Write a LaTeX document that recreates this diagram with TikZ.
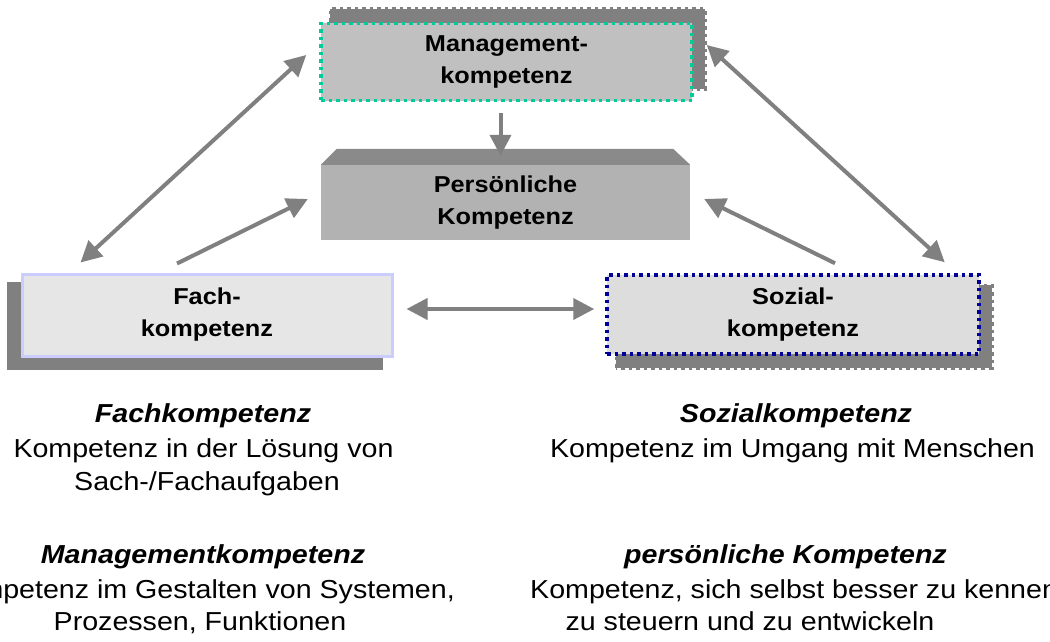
\documentclass[tikz,border=0pt]{standalone}
\usepackage{fontspec}
\setmainfont{Liberation Sans}[FakeStretch=1.1]
\usetikzlibrary{arrows.meta,calc,backgrounds}

\definecolor{linkgray}{HTML}{808080}
\definecolor{shadowgray}{HTML}{808080}
\definecolor{mgmtfill}{HTML}{C0C0C0}
\definecolor{mintline}{HTML}{00CC99}
\definecolor{persfront}{HTML}{B2B2B2}
\definecolor{perstop}{HTML}{8A8A8A}
\definecolor{fachfill}{HTML}{E6E6E6}
\definecolor{fachline}{HTML}{CCCCFF}
\definecolor{sozfill}{HTML}{DDDDDD}
\definecolor{navyline}{HTML}{000099}

\tikzset{
  dots/.style={line width=3.5pt, dash pattern=on 3.5pt off 4pt},
  labelbox/.style={inner sep=0pt, align=center,
    font=\bfseries\fontsize{23}{32}\selectfont},
  link/.style={draw=linkgray, line width=4pt,
    >={Triangle[length=21pt,width=21pt]}},
  bodyline/.style={inner sep=0pt, anchor=base,
    font=\fontsize{26}{32}\selectfont},
  headline/.style={bodyline,
    font=\bfseries\itshape\fontsize{26}{32}\selectfont},
}

\begin{document}
\begin{tikzpicture}[x=1pt, y=-1pt]
\useasboundingbox (0,0) rectangle (1050,642);
\clip (0,0) rectangle (1050,642);

% the four competence boxes
\node[labelbox, fill=mgmtfill, draw=mintline, dots,
      minimum width=371pt, minimum height=77pt] (mgmt) at (506.5,62)
  {Management-\\kompetenz};
\node[labelbox, fill=persfront,
      minimum width=369pt, minimum height=75pt] (pers) at (505.5,202.5)
  {Persönliche\\Kompetenz};
\node[labelbox, fill=fachfill, draw=fachline, line width=3pt,
      minimum width=370pt, minimum height=82pt] (fach) at (207,315)
  {Fach-\\kompetenz};
\node[labelbox, fill=sozfill, draw=navyline, dots,
      minimum width=372pt, minimum height=79pt] (soz) at (793,314.5)
  {Sozial-\\kompetenz};

% bevelled top of the centre block
\fill[perstop] (pers.north west) -- ($(pers.north west)+(16,-16)$)
  -- ($(pers.north east)+(-17,-16)$) -- (pers.north east) -- cycle;

% drop shadows
\begin{scope}[on background layer]
  \path[fill=shadowgray, draw=shadowgray, dots]
    ($(mgmt.south west)+(11,-13)$) rectangle ($(mgmt.north east)+(11,-13)$);
  \path[fill=shadowgray, draw=shadowgray, line width=3pt]
    ($(fach.south west)+(-12,11)$) rectangle ($(fach.north east)+(-12,11)$);
  \path[fill=shadowgray, draw=shadowgray, dots]
    ($(soz.south west)+(11,12)$) rectangle ($(soz.north east)+(11,12)$);
\end{scope}

% connectors
\draw[link, <->] ($(fach.north west)+(60,-10)$) -- ($(mgmt.west)+(-13,-7)$);
\draw[link, ->]  ($(fach.north)+(-30,-9)$) -- ($(pers.west)+(-13,-3.5)$);
\draw[link, <->] ($(mgmt.east)+(13,-17)$) -- ($(soz.north east)+(-36,-11)$);
\draw[link, ->]  ($(soz.north)+(42,-10)$) -- ($(pers.east)+(14,-3.5)$);
\draw[link, ->]  ($(mgmt.south)+(-6,10.5)$) -- ($(mgmt.south)+(-6,53.5)$);
\draw[link, <->] ($(fach.east)+(13,-6)$) -- ($(soz.west)+(-11,-5.5)$);

% explanations
\node[headline] (fh) at (203,422) {Fachkompetenz};
\node[bodyline] (f1) at (203.5,457) {Kompetenz in der Lösung von};
\node[bodyline] (f2) at (207,490) {Sach-/Fachaufgaben};

\node[headline] (sh) at (796,422) {Sozialkompetenz};
\node[bodyline] (s1) at (792.5,457) {Kompetenz im Umgang mit Menschen};

\node[headline] (mh) at (203,563) {Managementkompetenz};
\node[bodyline, anchor=base east] (m1) at (455,598)
  {Kompetenz im Gestalten von Systemen,};
\node[bodyline] (m2) at (200,630) {Prozessen, Funktionen};

\node[headline] (ph) at (785.5,563) {persönliche Kompetenz};
\node[bodyline, anchor=base west] (p1) at (530,598)
  {Kompetenz, sich selbst besser zu kennen,};
\node[bodyline] (p2) at (750,630) {zu steuern und zu entwickeln};
\end{tikzpicture}
\end{document}
